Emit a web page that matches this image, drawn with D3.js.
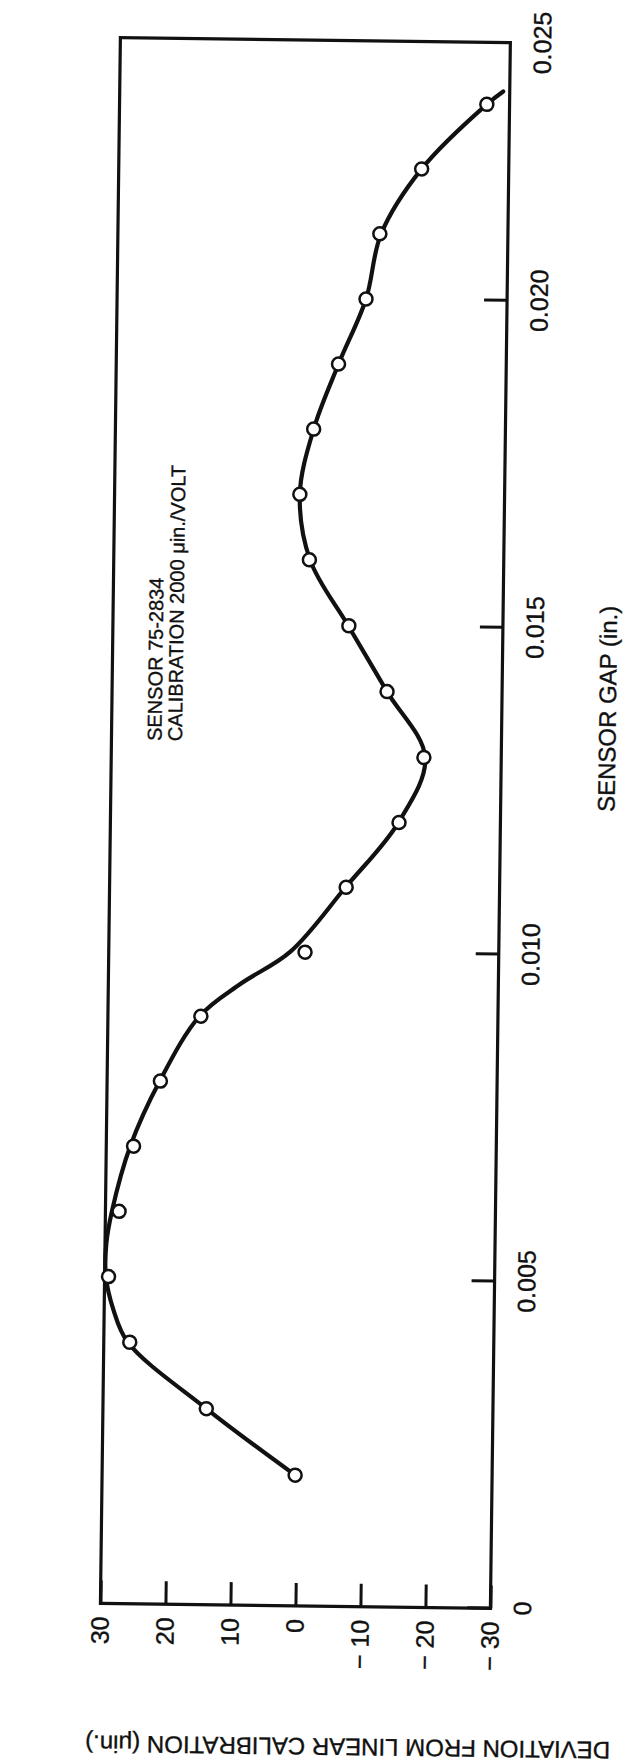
<!DOCTYPE html>
<html>
<head>
<meta charset="utf-8">
<script src="https://cdnjs.cloudflare.com/ajax/libs/d3/7.8.5/d3.min.js"></script>
<style>
    body { margin: 0; background: #fff; }
    text { font-family: "Liberation Sans", Arial, sans-serif; fill: #111; stroke: #111; stroke-width: 0.35px; }
</style>
</head>
<body>
<div id="chart-area"></div>
<script>
// measured points (gap in inches, deviation in micro-inches)
let gap = [0.002, 0.003, 0.004, 0.005, 0.006, 0.007, 0.008, 0.009, 0.010, 0.011, 0.012,
    0.013, 0.014, 0.015, 0.016, 0.017, 0.018, 0.019, 0.020, 0.021, 0.022, 0.023];
let deviation = [0.3, 14.1, 26.0, 29.4, 27.9, 25.8, 21.8, 15.7, -0.2, -6.4, -14.4,
    -18.1, -12.3, -6.3, -0.1, 1.5, -0.5, -4.2, -8.3, -10.3, -16.6, -26.5];

// hand drawn fit curve
let fitGap = [0.002, 0.003, 0.004, 0.0045, 0.005, 0.0055, 0.006, 0.007, 0.008, 0.009, 0.0095,
    0.010, 0.011, 0.012, 0.013, 0.014, 0.015, 0.016, 0.017, 0.018, 0.019, 0.020, 0.021,
    0.022, 0.023, 0.0232];
let fitDev = [0.3, 14.1, 26.3, 28.6, 29.8, 29.8, 29.0, 26.3, 21.9, 15.9, 9.7,
    2.1, -6.3, -14.3, -18.3, -12.3, -6.2, -0.2, 1.5, -0.5, -4.2, -8.3, -10.5,
    -16.6, -26.5, -29.0];

let gapTicks = [0, 0.005, 0.010, 0.015, 0.020];
let gapEndLabel = "0.025";
let devTicks = [30, 20, 10, 0, -10, -20, -30];

let width = 1566, height = 390;   // unrotated plot frame

let svg = d3.select("#chart-area")
    .append("svg")
    .attr("width", 633)
    .attr("height", 1763);

// the whole chart is printed turned on its side (and a hair off square)
let g = svg.append("g")
    .attr("transform", "translate(305.4,823) rotate(-89.27) translate(" + (-width / 2) + "," + (-height / 2) + ")");

// Scales
let x = d3.scaleLinear()
    .domain([0, 0.02395])
    .range([0, width]);
let y = d3.scaleLinear()
    .domain([-30, 30])
    .range([height, 0]);

// frame
g.append("rect")
    .attr("width", width)
    .attr("height", height)
    .attr("fill", "none")
    .attr("stroke", "#111")
    .attr("stroke-width", 3.2);

// X Axis
let xAxisCall = d3.axisBottom(x)
    .tickValues(gapTicks)
    .tickSize(-23)
    .tickPadding(23)
    .tickFormat(d => d === 0 ? "0" : d3.format(".3f")(d));
let xAxis = g.append("g")
    .attr("class", "x axis")
    .attr("transform", "translate(0," + height + ")")
    .call(xAxisCall);

g.append("text")
    .attr("x", x.range()[1])
    .attr("y", height + 23)
    .attr("dy", "0.71em")
    .attr("font-size", "25px")
    .attr("text-anchor", "middle")
    .text(gapEndLabel);

// Y Axis
let yAxisCall = d3.axisLeft(y)
    .tickValues(devTicks)
    .tickSize(-23)
    .tickPadding(13)
    .tickFormat(d => d < 0 ? "\u2212 " + Math.abs(d) : d);
let yAxis = g.append("g")
    .attr("class", "y axis")
    .call(yAxisCall);

[xAxis, yAxis].forEach(a => {
    a.select(".domain").remove();
    a.selectAll(".tick line").attr("stroke", "#111").attr("stroke-width", 3);
    a.selectAll(".tick text")
        .attr("font-size", "25px")
        .attr("font-family", "Liberation Sans, Arial, sans-serif")
        .attr("fill", "#111");
});

// Labels
g.append("text")
    .attr("x", x(0.01378))
    .attr("y", height + 114)
    .attr("font-size", "24px")
    .attr("text-anchor", "middle")
    .text("SENSOR GAP (in.)");

g.append("text")
    .attr("transform", "rotate(-90)")
    .attr("x", -y(-8.3))
    .attr("y", -132)
    .attr("font-size", "24px")
    .attr("text-anchor", "middle")
    .text("DEVIATION FROM LINEAR CALIBRATION (\u03bcin.)");

// note inside the frame
let note = g.append("text")
    .attr("x", x(0.0132))
    .attr("font-size", "20px");
note.append("tspan").attr("x", x(0.0132)).attr("y", 50).text("SENSOR 75-2834");
note.append("tspan").attr("x", x(0.0132)).attr("y", 70.5).text("CALIBRATION 2000 \u03bcin./VOLT");

// fit curve
let line = d3.line()
    .x((d, i) => x(fitGap[i]))
    .y(d => y(d))
    .curve(d3.curveCatmullRom.alpha(0.5));

g.append("path")
    .datum(fitDev)
    .attr("d", line)
    .attr("fill", "none")
    .attr("stroke", "#111")
    .attr("stroke-width", 4.2)
    .attr("stroke-linecap", "round");

// points
g.selectAll("circle")
    .data(deviation)
    .enter()
    .append("circle")
    .attr("cx", (d, i) => x(gap[i]))
    .attr("cy", d => y(d))
    .attr("r", 6.5)
    .attr("fill", "#fff")
    .attr("stroke", "#111")
    .attr("stroke-width", 2.5);
</script>
</body>
</html>
